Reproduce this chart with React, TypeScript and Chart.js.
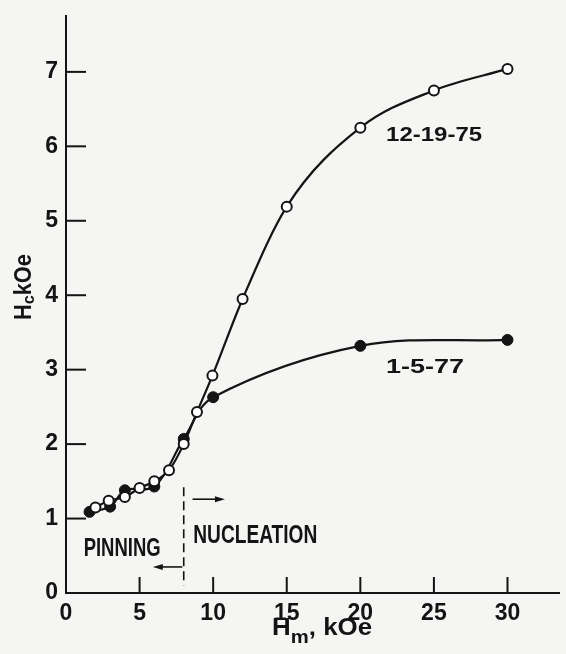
import React, { useEffect, useRef } from "react";
import { Chart, registerables } from "chart.js";

Chart.register(...registerables);

// ---------- data ----------
const openLabel = "12-19-75";
const openX = [2, 2.9, 4, 5, 6, 7, 8, 8.9, 9.95, 12, 15, 20, 25, 30];
const openY = [1.15, 1.24, 1.29, 1.41, 1.5, 1.65, 2.0, 2.43, 2.92, 3.95, 5.19, 6.25, 6.75, 7.04];

const filledLabel = "1-5-77";
const filledX = [1.6, 3, 4, 6, 8, 10, 20, 30];
const filledY = [1.09, 1.16, 1.38, 1.43, 2.07, 2.63, 3.32, 3.4];

const xTickValues = [0, 5, 10, 15, 20, 25, 30];
const yTickValues = [0, 1, 2, 3, 4, 5, 6, 7];
const xAxisTitle = ["H", "m", ", kOe"];
const yAxisTitle = ["H", "c", "kOe"];
const regionBoundary = 8;
const regionLeftLabel = "PINNING";
const regionRightLabel = "NUCLEATION";

// ---------- styles ----------
const INK = "#141414";
const BG = "#f5f5f3";
const FONT = "'Liberation Sans', Arial, 'DejaVu Sans', sans-serif";

function drawScaled(ctx: CanvasRenderingContext2D, text: string, x: number, y: number, size: number, width: number) {
  ctx.save();
  ctx.font = `bold ${size}px ${FONT}`;
  ctx.textBaseline = "middle";
  ctx.textAlign = "left";
  const w = ctx.measureText(text).width;
  ctx.translate(x, y);
  ctx.scale(width / w, 1);
  ctx.fillStyle = INK;
  ctx.fillText(text, 0, 0);
  ctx.restore();
}

// draws [main, subscript, rest] centred at (0,0) in the current frame, baseline at y=0
function drawSubTitle(ctx: CanvasRenderingContext2D, parts: string[], size: number, subSize: number, subDrop: number, width: number) {
  ctx.font = `bold ${size}px ${FONT}`;
  const w0 = ctx.measureText(parts[0]).width;
  const w2 = ctx.measureText(parts[2]).width;
  ctx.font = `bold ${subSize}px ${FONT}`;
  const w1 = ctx.measureText(parts[1]).width;
  const total = w0 + w1 + w2;
  const s = width / total;
  ctx.save();
  ctx.scale(s, 1);
  ctx.translate(-total / 2, 0);
  ctx.fillStyle = INK;
  ctx.textBaseline = "alphabetic";
  ctx.textAlign = "left";
  ctx.font = `bold ${size}px ${FONT}`;
  ctx.fillText(parts[0], 0, 0);
  ctx.font = `bold ${subSize}px ${FONT}`;
  ctx.fillText(parts[1], w0, subDrop);
  ctx.font = `bold ${size}px ${FONT}`;
  ctx.fillText(parts[2], w0 + w1, 0);
  ctx.restore();
}

function arrow(ctx: CanvasRenderingContext2D, x1: number, x2: number, y: number) {
  const dir = Math.sign(x2 - x1);
  ctx.beginPath();
  ctx.moveTo(x1, y);
  ctx.lineTo(x2 - dir * 8, y);
  ctx.stroke();
  ctx.beginPath();
  ctx.moveTo(x2, y);
  ctx.lineTo(x2 - dir * 10, y - 3);
  ctx.lineTo(x2 - dir * 10, y + 3);
  ctx.closePath();
  ctx.fill();
}

const backgroundPlugin = {
  id: "bg",
  beforeDraw(chart: any) {
    const { ctx, width, height } = chart;
    ctx.save();
    ctx.fillStyle = BG;
    ctx.fillRect(0, 0, width, height);
    ctx.restore();
  },
};

const decorPlugin = {
  id: "decor",
  afterDraw(chart: any) {
    const { ctx, chartArea } = chart;
    const xs = chart.scales.x;
    const ys = chart.scales.y;
    ctx.save();
    ctx.strokeStyle = INK;
    ctx.fillStyle = INK;
    // inward tick marks
    ctx.lineWidth = 2;
    xTickValues.forEach((v) => {
      if (v === 0) return;
      const px = xs.getPixelForValue(v);
      ctx.beginPath();
      ctx.moveTo(px, chartArea.bottom);
      ctx.lineTo(px, chartArea.bottom - 16);
      ctx.stroke();
    });
    yTickValues.forEach((v) => {
      if (v === 0) return;
      const py = ys.getPixelForValue(v);
      ctx.beginPath();
      ctx.moveTo(chartArea.left, py);
      ctx.lineTo(chartArea.left + 20, py);
      ctx.stroke();
    });

    // region boundary (dashed) and arrows
    const bx = xs.getPixelForValue(regionBoundary);
    ctx.lineWidth = 1.6;
    ctx.setLineDash([9, 5]);
    ctx.beginPath();
    ctx.moveTo(bx, ys.getPixelForValue(1.42));
    ctx.lineTo(bx, ys.getPixelForValue(0.1));
    ctx.stroke();
    ctx.setLineDash([]);
    arrow(ctx, xs.getPixelForValue(8.6), xs.getPixelForValue(10.8), ys.getPixelForValue(1.26));
    arrow(ctx, xs.getPixelForValue(7.9), xs.getPixelForValue(5.9), ys.getPixelForValue(0.35));

    // labels
    drawScaled(ctx, regionLeftLabel, xs.getPixelForValue(1.2), ys.getPixelForValue(0.59), 25, 77);
    drawScaled(ctx, regionRightLabel, xs.getPixelForValue(8.65), ys.getPixelForValue(0.765), 25, 124);
    drawScaled(ctx, openLabel, xs.getPixelForValue(21.75), ys.getPixelForValue(6.15), 20, 96);
    drawScaled(ctx, filledLabel, xs.getPixelForValue(21.75), ys.getPixelForValue(3.03), 20, 78);

    // axis titles
    ctx.save();
    ctx.translate(xs.getPixelForValue(17.4), 635);
    drawSubTitle(ctx, xAxisTitle, 23, 18, 8, 100);
    ctx.restore();

    ctx.save();
    ctx.translate(31, ys.getPixelForValue(4.11));
    ctx.rotate(-Math.PI / 2);
    drawSubTitle(ctx, yAxisTitle, 23, 17, 3, 66);
    ctx.restore();

    ctx.restore();
  },
};

export default function App() {
  const ref = useRef<HTMLCanvasElement | null>(null);

  useEffect(() => {
    if (!ref.current) return;
    const tickFont = { family: FONT, size: 23, weight: "bold" as const, lineHeight: 0.7 };
    const chart = new Chart(ref.current, {
      type: "line",
      data: {
        datasets: [
          {
            label: openLabel,
            data: openX.map((x, i) => ({ x, y: openY[i] })),
            borderColor: INK,
            borderWidth: 2.2,
            pointBackgroundColor: "#ffffff",
            pointBorderColor: INK,
            pointBorderWidth: 2,
            pointRadius: 5,
            cubicInterpolationMode: "monotone",
            fill: false,
          },
          {
            label: filledLabel,
            data: filledX.map((x, i) => ({ x, y: filledY[i] })),
            borderColor: INK,
            borderWidth: 2.2,
            pointBackgroundColor: INK,
            pointBorderColor: INK,
            pointBorderWidth: 1,
            pointRadius: 5.5,
            tension: 0.35,
            fill: false,
          },
        ],
      },
      options: {
        responsive: false,
        animation: false,
        events: [],
        layout: { padding: { top: 16, right: 5, left: 0, bottom: 0 } },
        plugins: { legend: { display: false }, tooltip: { enabled: false }, title: { display: false } },
        scales: {
          x: {
            type: "linear",
            min: 0,
            max: 33.5,
            grid: { display: false, drawTicks: false },
            border: { display: true, color: INK, width: 2 },
            ticks: {
              stepSize: 5,
              includeBounds: false,
              color: INK,
              font: tickFont,
              padding: 13,
              callback: (v: any) => (xTickValues.includes(Number(v)) ? String(v) : ""),
            },
            afterFit: (s: any) => {
              s.height = 61;
            },
          },
          y: {
            type: "linear",
            min: 0,
            max: 7.75,
            grid: { display: false, drawTicks: false },
            border: { display: true, color: INK, width: 2 },
            ticks: {
              stepSize: 1,
              includeBounds: false,
              color: INK,
              font: tickFont,
              padding: 8,
              callback: (v: any) => (yTickValues.includes(Number(v)) ? String(v) : ""),
            },
            afterFit: (s: any) => {
              s.width = 66;
            },
          },
        },
      },
      plugins: [backgroundPlugin, decorPlugin],
    });
    return () => chart.destroy();
  }, []);

  return (
    <div style={{ position: "absolute", left: 0, top: 0, width: 566, height: 654, overflow: "hidden" }}>
      <canvas ref={ref} width={566} height={654} style={{ display: "block", width: 566, height: 654 }} />
    </div>
  );
}
